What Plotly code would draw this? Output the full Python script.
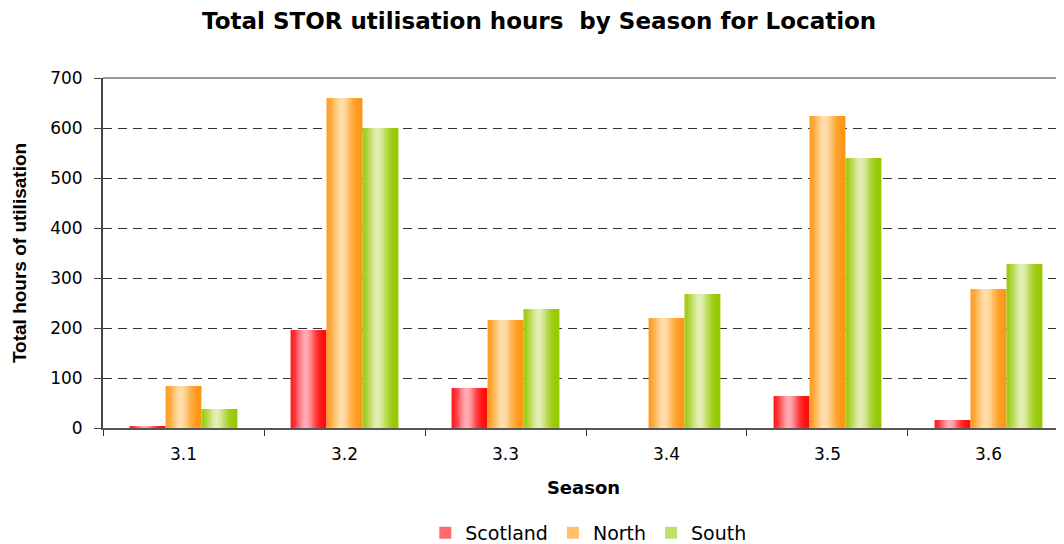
import math
import plotly.graph_objects as go

categories = ["3.1", "3.2", "3.3", "3.4", "3.5", "3.6"]
scotland = [4, 196, 80, 0, 64, 16]
north = [84, 660, 216, 220, 624, 278]
south = [38, 600, 238, 268, 540, 328]

series = [
    ("Scotland", scotland, (255, 10, 10), (255, 172, 180)),
    ("North", north, (255, 150, 20), (255, 222, 172)),
    ("South", south, (150, 200, 0), (226, 238, 180)),
]

group_width = 0.67
bar_w = group_width / 3
n_slices = 20

fig = go.Figure()

def shade(edge, peak, t):
    f = math.exp(-((t - 0.42) / 0.27) ** 2)
    return "rgb(%d,%d,%d)" % tuple(int(round(e + (p - e) * f)) for e, p in zip(edge, peak))

for i, (name, vals, edge, peak) in enumerate(series):
    start = -group_width / 2 + i * bar_w
    sw = bar_w / n_slices
    for k in range(n_slices):
        t = (k + 0.5) / n_slices
        off = start + k * sw
        w = min(sw * 1.6, start + bar_w - off)
        fig.add_trace(go.Bar(
            x=categories, y=vals, name=name,
            width=w, offset=off,
            marker=dict(color=shade(edge, peak, t), line=dict(width=0)),
            legendgroup=name, showlegend=(k == 4),
            hovertemplate=name + " %{x}: %{y}<extra></extra>",
        ))

# the page body adds an 8px margin at the top-left; the figure is sized to fill the rest of the window
fig.update_layout(
    width=1056, height=536,
    barmode="overlay",
    paper_bgcolor="white", plot_bgcolor="white",
    margin=dict(l=95, r=0, t=70, b=116),
    font=dict(family="DejaVu Sans, Liberation Sans, Arial, sans-serif", color="black"),
    title=dict(text="<b>Total STOR utilisation hours  by Season for Location</b>",
               x=0.503, xref="container", xanchor="center", y=0.976, yanchor="middle",
               font=dict(size=23)),
    legend=dict(orientation="h", x=0.505, xanchor="center",
                yref="container", y=0.0205, yanchor="middle",
                font=dict(size=19), itemwidth=30, tracegroupgap=0,
                traceorder="normal"),
    showlegend=True,
    shapes=[dict(type="line", xref="paper", yref="y domain", x0=0, x1=1, y0=1, y1=1,
                 line=dict(color="#9a9a9a", width=2), layer="below")],
)

fig.update_xaxes(
    type="category", range=[-0.5, 5.469], automargin=False,
    tickson="boundaries", ticks="outside", ticklen=6, tickcolor="#333",
    showline=True, linecolor="#555", linewidth=2,
    showgrid=False, tickfont=dict(size=17), ticklabelstandoff=10,
    title=dict(text="<b>Season</b>", font=dict(size=18), standoff=18),
)
fig.update_yaxes(
    range=[0, 700], dtick=100, ticks="outside", ticklen=7, tickcolor="#444",
    showline=True, linecolor="#444", linewidth=2, automargin=False,
    showgrid=True, gridcolor="#333", griddash="9px,6px", gridwidth=1,
    zeroline=False, tickfont=dict(size=17), ticklabelstandoff=8,
    title=dict(text="<b>Total hours of utilisation</b>",
               font=dict(size=19, family="Liberation Sans, Arial, sans-serif"), standoff=18),
)

fig.write_html("out.html")
